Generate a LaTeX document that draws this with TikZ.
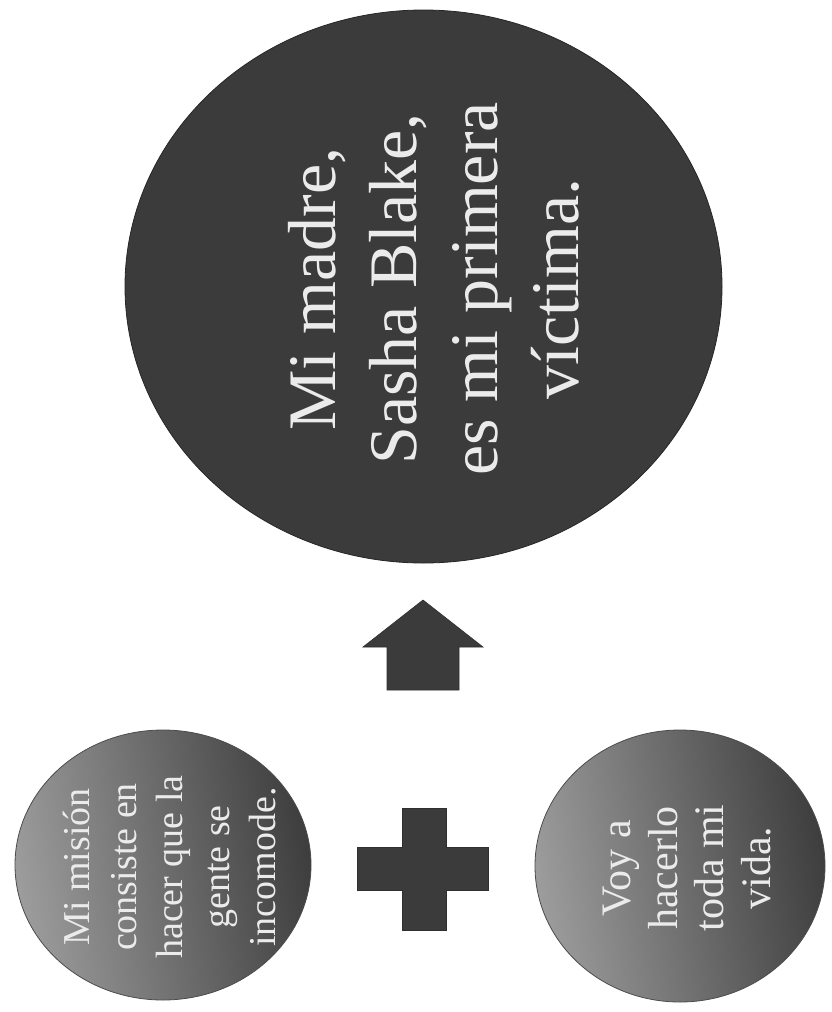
\documentclass[tikz,border=0pt]{standalone}
\usepackage{fontspec}
\setmainfont{Liberation Serif}
\usetikzlibrary{shapes.geometric}
\definecolor{darkfill}{HTML}{3B3B3B}
\definecolor{txt}{HTML}{EBEBEB}
\definecolor{gradlight}{HTML}{9C9C9C}
\definecolor{graddark}{HTML}{3E3E3E}
\tikzset{
  bigcirc/.style={ellipse, fill=darkfill, draw=black!85, line width=0.8pt, inner sep=0pt},
  smallcirc/.style={ellipse, draw=black!70, line width=0.8pt, inner sep=0pt,
    left color=gradlight, right color=graddark, shading angle=100},
  label/.style={text=txt, rotate=90, align=center, inner sep=0pt},
  solidshape/.style={fill=darkfill, draw=darkfill!80!black, line width=0.6pt},
}
\begin{document}
\begin{tikzpicture}[x=1pt, y=-1pt]
\useasboundingbox (0,0) rectangle (831,1012);
\fill[white] (0,0) rectangle (831,1012);
% big circle
\node[bigcirc, minimum width=597pt, minimum height=553pt] (big) at (423.5,286.5) {};
\node[label, font=\fontsize{68}{81}\selectfont] (bigtext) at (434,289)
  {Mi madre,\\Sasha Blake,\\es mi primera\\víctima.};
% small circles
\node[smallcirc, minimum width=296pt, minimum height=270pt] (left) at (163,865) {};
\node[label, font=\fontsize{38}{46.5}\selectfont] (lefttext) at (170,867)
  {Mi misión\\consiste en\\hacer que la\\gente se\\incomode.};
\node[smallcirc, minimum width=290pt, minimum height=272pt] (right) at (680,866) {};
\node[label, font=\fontsize{42}{46.5}\selectfont] (righttext) at (687,868)
  {Voy a\\hacerlo\\toda mi\\vida.};
% up arrow
\draw[solidshape] (423,600) -- (483,647) -- (459,647) -- (459,690) -- (387,690)
  -- (387,647) -- (363,647) -- cycle;
% plus sign
\draw[solidshape] (402,808) -- (446,808) -- (446,847) -- (488,847) -- (488,890)
  -- (446,890) -- (446,930) -- (402,930) -- (402,890) -- (357,890) -- (357,847)
  -- (402,847) -- cycle;
\end{tikzpicture}
\end{document}
